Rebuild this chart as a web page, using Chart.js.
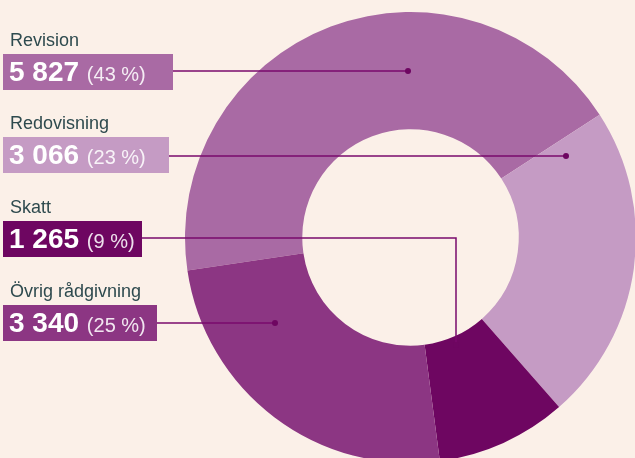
<!DOCTYPE html>
<html>
<head>
<meta charset="utf-8">
<script src="https://cdn.jsdelivr.net/npm/chart.js@4"></script>
<style>
    html, body { margin: 0; padding: 0; background: #fbf0e8; overflow: hidden; }
    #wrap { position: relative; width: 635px; height: 458px; overflow: hidden; }
    #wrap canvas { position: absolute; left: 0; top: 0; }
</style>
</head>
<body>
<div id="wrap"><canvas id="pieChart" width="660" height="480"></canvas></div>
<script>
// Chart data
const categories = ['Revision', 'Redovisning', 'Skatt', 'Övrig rådgivning'];
const amounts = [5827, 3066, 1265, 3340];

// Slice colours
const sliceColors = ['#a96aa4', '#c59bc4', '#6e0661', '#8c3683'];

// Label boxes on the left (top of box, box width) and leader lines
const boxTops = [54, 137, 221, 305];
const boxWidths = [170, 166, 139, 154];
const leaderY = [71, 156, 238, 323];
const leaderEnds = [[408, 71], [566, 156], [456, 345], [275, 323]];

const total = amounts.reduce((a, b) => a + b, 0);

// Format numbers with a space as thousands separator
function formatAmount(n) {
    return String(n).replace(/\B(?=(\d{3})+(?!\d))/g, ' ');
}

// Plugin that draws the labels and leader lines
const labelPlugin = {
    id: 'sideLabels',
    afterDraw(chart) {
        const c = chart.ctx;
        c.save();
        categories.forEach((name, i) => {
            const top = boxTops[i];

            // Category name
            c.fillStyle = '#2e4a4e';
            c.font = '18px "Liberation Sans", Arial, sans-serif';
            c.textBaseline = 'alphabetic';
            c.textAlign = 'left';
            c.fillText(name, 10, top - 8);

            // Coloured box
            c.fillStyle = sliceColors[i];
            c.fillRect(3, top, boxWidths[i], 36);

            // Leader line
            const [ex, ey] = leaderEnds[i];
            c.strokeStyle = '#7a0a6c';
            c.lineWidth = 1.5;
            c.beginPath();
            c.moveTo(3 + boxWidths[i], leaderY[i]);
            c.lineTo(ex, leaderY[i]);
            c.lineTo(ex, ey);
            c.stroke();
            c.fillStyle = '#6e0661';
            c.beginPath();
            c.arc(ex, ey, 3, 0, Math.PI * 2);
            c.fill();

            // Value and percentage
            const value = formatAmount(amounts[i]);
            const pct = '(' + Math.round(amounts[i] / total * 100) + ' %)';
            c.fillStyle = '#ffffff';
            c.font = 'bold 28px "Liberation Sans", Arial, sans-serif';
            c.fillText(value, 9, top + 27);
            const w = c.measureText(value + ' ').width;
            c.fillStyle = 'rgba(255,255,255,0.88)';
            c.font = '20px "Liberation Sans", Arial, sans-serif';
            c.fillText(pct, 9 + w, top + 27);
        });
        c.restore();
    }
};

const ctx = document.getElementById('pieChart').getContext('2d');

new Chart(ctx, {
    type: 'doughnut',
    data: {
        labels: categories,
        datasets: [{
            data: amounts,
            backgroundColor: sliceColors,
            borderWidth: 0
        }]
    },
    options: {
        responsive: false,
        animation: false,
        rotation: 261.6,
        cutout: '48%',
        layout: {
            padding: { left: 185, top: 12, right: 24, bottom: 17 }
        },
        plugins: {
            legend: { display: false },
            tooltip: { enabled: false }
        }
    },
    plugins: [labelPlugin]
});
</script>
</body>
</html>
